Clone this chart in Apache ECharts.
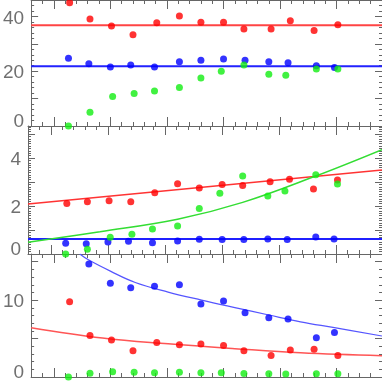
<!DOCTYPE html>
<html>
<head>
<meta charset="utf-8">
<script src="https://cdn.jsdelivr.net/npm/echarts@6/dist/echarts.min.js"></script>
<style>
  html, body { margin: 0; padding: 0; background: #fff; }
  #chart { width: 382px; height: 382px; }
</style>
</head>
<body>
<div id="chart"></div>
<script>
// x positions, in minor tick units (axis runs 0..31)
var redX = [3.4, 5.2, 7.1, 9.0, 11.1, 13.1, 15.0, 17.0, 18.8, 21.2, 22.9, 25.0, 27.1]
var blueX = [3.3, 5.1, 7.0, 8.8, 10.9, 13.1, 15.0, 17.0, 18.9, 21.0, 22.7, 25.2, 26.8]
var greenX = [3.3, 5.2, 7.2, 9.1, 10.9, 13.1, 15.0, 16.8, 18.8, 21.0, 22.5, 25.2, 27.1]

// top panel
var red1 = [45.0, 39.1, 36.5, 33.3, 37.7, 40.2, 37.9, 37.9, 35.4, 35.4, 38.4, 34.9, 37.0]
var blue1 = [24.7, 22.7, 21.5, 22.3, 21.5, 23.5, 24.0, 24.5, 24.0, 23.5, 23.1, 22.0, 21.4]
var green1 = [0, 5.0, 10.8, 11.9, 12.8, 14.1, 17.5, 20.0, 22.3, 18.9, 18.5, 20.8, 20.8]
var red1Fit = [[0, 36.8], [31, 36.8]]
var blue1Fit = [[0, 21.8], [31, 21.8]]

// middle panel
var red2 = [2.10, 2.18, 2.22, 2.18, 2.55, 2.93, 2.75, 2.90, 2.85, 3.01, 3.11, 2.71, 3.08]
var blue2 = [0.45, 0.43, 0.50, 0.53, 0.47, 0.54, 0.61, 0.60, 0.60, 0.63, 0.60, 0.71, 0.63]
var green2 = [0.0, 0.2, 0.7, 0.82, 1.04, 1.17, 1.9, 2.53, 3.25, 2.42, 2.63, 3.30, 2.92]
var red2Fit = [[0, 2.08], [31, 3.5]]
var blue2Fit = [[0, 0.62], [31, 0.62]]
var green2Fit = [[0, 0.49], [6.3, 0.93], [13.1, 1.45], [18.8, 2.15], [25.2, 3.25], [31, 4.35]]

// bottom panel
var red3 = [9.8, 5.4, 4.8, 3.4, 4.5, 4.2, 4.3, 4.1, 3.4, 2.8, 3.5, 3.6, 2.8]
var blue3 = [null, 14.7, 12.2, 11.6, 11.8, 12.0, 9.5, 9.9, 8.35, 7.7, 7.55, 5.1, 5.8]
var green3 = [0, 0.5, 0.67, 0.63, 0.54, 0.63, 0.54, 0.54, 0.47, 0.42, 0.38, 0.42, 0.42]
var red3Fit = [[0, 6.42], [6.3, 5.08], [12.1, 4.32], [18, 3.69], [23.8, 3.15], [31, 2.77]]
var blue3Fit = [[4.3, 16.0], [5.06, 15.24], [7.0, 13.77], [9.2, 12.3], [12.1, 11.05], [15.06, 10.0],
  [18.0, 9.03], [20.9, 8.1], [23.8, 7.18], [26.8, 6.42], [31, 5.33]]

// y axis ranges: [min, max, tick interval, minor splits, label step]
var yRange1 = [0, 46, 10, 5, 20]
var yRange2 = [0, 5.333, 1, 10, 2]
var yRange3 = [0, 16, 5, 5, 10]

var xSlots = []
for (var i = 0; i <= 31; i++) xSlots.push(String(i))

var axisColor = '#666'
var labelFont = { fontSize: 19, color: '#707070', fontFamily: 'Liberation Sans' }
var grids = [
  { left: 28, width: 354, top: 0, height: 126 },
  { left: 28, width: 354, top: 126, height: 128 },
  { left: 28, width: 354, top: 254, height: 127 }
]

var xAxes = []
var yAxes = []

function addXAxes(g) {
  ['bottom', 'top'].forEach(function (pos) {
    xAxes.push({
      type: 'value', gridIndex: g, position: pos, min: 0, max: 31, interval: 1,
      axisLine: { show: true, onZero: false, lineStyle: { color: axisColor, width: 1 } },
      axisTick: { inside: true, length: 4, lineStyle: { color: axisColor } },
      axisLabel: { show: false },
      splitLine: { show: false }
    })
    xAxes.push({
      type: 'category', gridIndex: g, position: pos, boundaryGap: false, data: xSlots,
      axisLine: { show: false, onZero: false },
      axisTick: {
        inside: true, length: 9, lineStyle: { color: axisColor },
        interval: function (idx) { return idx % 5 === 2 }
      },
      axisLabel: { show: false },
      splitLine: { show: false }
    })
  })
}

function addYAxes(g, r) {
  ['left', 'right'].forEach(function (pos) {
    yAxes.push({
      type: 'value', gridIndex: g, position: pos,
      min: r[0], max: r[1], interval: r[2],
      axisLine: { show: true, onZero: false, lineStyle: { color: axisColor, width: 1 } },
      axisTick: { inside: true, length: 7, lineStyle: { color: axisColor } },
      minorTick: { show: true, splitNumber: r[3], length: 3, lineStyle: { color: axisColor } },
      axisLabel: {
        show: pos === 'left', margin: 7,
        formatter: function (v) {
          if (Math.abs(v % r[4]) > 1e-6) return ''
          return v === 0 ? '{z|0}' : '{n|' + v + '}'
        },
        rich: {
          z: Object.assign({ padding: [0, 0, 9, 0] }, labelFont),
          n: Object.assign({ padding: [4, 0, 0, 0] }, labelFont)
        }
      },
      splitLine: { show: false }
    })
  })
}

addXAxes(0); addXAxes(1); addXAxes(2)
addYAxes(0, yRange1); addYAxes(1, yRange2); addYAxes(2, yRange3)

function dots(g, xs, ys, color) {
  return {
    type: 'scatter', xAxisIndex: 4 * g, yAxisIndex: 2 * g,
    data: xs.map(function (x, i) { return [x, ys[i]] }),
    symbolSize: 7, itemStyle: { color: color }, z: 5, clip: true
  }
}

function fit(g, pts, color, width, smooth) {
  return {
    type: 'line', xAxisIndex: 4 * g, yAxisIndex: 2 * g, data: pts,
    showSymbol: false, smooth: smooth, clip: true, z: 3,
    lineStyle: { color: color, width: width }
  }
}

var series = [
  fit(0, red1Fit, '#ff4444', 2, false),
  fit(0, blue1Fit, '#2222ff', 2, false),
  dots(0, redX, red1, '#ff0000'),
  dots(0, blueX, blue1, '#0000ff'),
  dots(0, greenX, green1, '#11ee11'),

  fit(1, red2Fit, '#ff3333', 1.5, false),
  fit(1, blue2Fit, '#2020ff', 2, false),
  fit(1, green2Fit, '#33dd33', 1.5, 0.4),
  dots(1, redX, red2, '#ff0000'),
  dots(1, blueX, blue2, '#0000ff'),
  dots(1, greenX, green2, '#11ee11'),

  fit(2, red3Fit, '#ff5555', 1.5, 0.4),
  fit(2, blue3Fit, '#5555ff', 1.2, 0.4),
  dots(2, redX, red3, '#ff0000'),
  dots(2, blueX, blue3, '#0000ff'),
  dots(2, greenX, green3, '#11ee11')
]

var chart = echarts.init(document.getElementById('chart'))
chart.setOption({
  animation: false,
  backgroundColor: '#fff',
  grid: grids,
  xAxis: xAxes,
  yAxis: yAxes,
  series: series
})
</script>
</body>
</html>
